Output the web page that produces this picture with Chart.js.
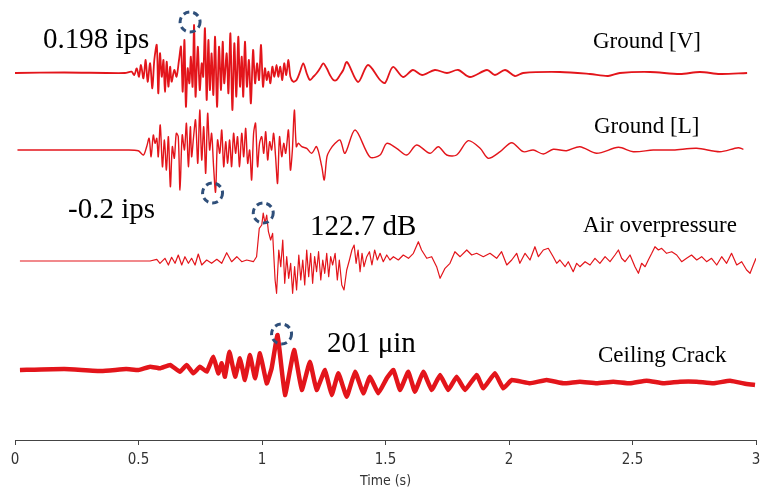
<!DOCTYPE html>
<html>
<head>
<meta charset="utf-8">
<title>Blast vibration records</title>
<script src="https://cdn.jsdelivr.net/npm/chart.js@4.4.1/dist/chart.umd.min.js"></script>
<style>
  html, body { margin: 0; padding: 0; background: #fff; }
  #wrap { width: 760px; height: 493px; position: relative; }
</style>
</head>
<body>
<div id="wrap"><canvas id="waveChart"></canvas></div>
<script>
console.log("waveChart loaded");

// time axis
const timeTicks = [0, 0.5, 1, 1.5, 2, 2.5, 3];

// trace names and peak readings
const traceNames = ["Ground [V]", "Ground [L]", "Air overpressure", "Ceiling Crack"];
const peakLabels = ["0.198 ips", "-0.2 ips", "122.7 dB", "201 \u03bcin"];

// [time (s), amplitude], amplitude in relative units (up = positive)
const groundV = [[0,0],[0.2,0.5],[0.445,0],[0.472,1.3],[0.483,-2],[0.493,4.7],[0.502,-3.7],[0.510,8],[0.520,-5.3],[0.529,13],[0.537,-8.7],[0.547,9.7],[0.556,-15.3],[0.564,13],[0.574,28],[0.580,-20.3],[0.587,19.7],[0.594,-3.7],[0.601,13],[0.607,-18.7],[0.614,11.3],[0.621,-13.7],[0.628,6.3],[0.634,-8.7],[0.645,3],[0.654,-3.7],[0.664,13],[0.672,26.3],[0.679,-18.7],[0.686,33],[0.692,-33.7],[0.699,4.7],[0.706,-10.3],[0.712,16.3],[0.719,-13.7],[0.725,48],[0.731,-23.7],[0.740,26.3],[0.748,-17],[0.756,9.7],[0.762,-3.7],[0.769,44.7],[0.776,-27],[0.783,33],[0.789,-17],[0.796,19.7],[0.803,-22],[0.810,36.3],[0.818,-33.7],[0.826,26.3],[0.834,-17],[0.841,31.3],[0.847,-10.3],[0.857,19.7],[0.864,-20.3],[0.872,39.7],[0.880,-37],[0.888,29.7],[0.896,-23.7],[0.904,36.3],[0.911,-13.7],[0.918,16.3],[0.924,-23.7],[0.931,31.3],[0.939,-13.7],[0.947,13],[0.955,-30.3],[0.964,23],[0.972,-10.3],[0.980,9.7],[0.988,-7],[0.996,28],[1.004,-13.7],[1.012,4.7],[1.019,-7],[1.026,1.3],[1.034,-10.3],[1.042,6.3],[1.050,-3.7],[1.059,8],[1.066,-3.7],[1.074,6.3],[1.082,-7],[1.090,9.7],[1.098,-2],[1.107,13],[1.115,-3.7],[1.127,-8.7],[1.140,-7],[1.154,1.3],[1.167,9.7],[1.181,-0.3],[1.194,-7],[1.208,-3.7],[1.221,-0.3],[1.235,4.7],[1.248,9.7],[1.262,4.7],[1.275,-2],[1.289,-7],[1.302,-7],[1.316,-2],[1.329,3],[1.344,11],[1.389,-9],[1.429,8],[1.478,-7],[1.498,-10],[1.530,6],[1.571,-4],[1.611,3],[1.648,-2],[1.700,3],[1.749,0],[1.794,3],[1.842,-4],[1.911,3],[1.943,-2],[1.984,3],[2.024,-3],[2.057,0],[2.206,1],[2.328,-1],[2.401,-3],[2.449,0],[2.571,1],[2.692,-1],[2.773,1],[2.854,-1],[2.964,0]];

const groundL = [[0.01,0],[0.2,0],[0.445,0],[0.499,-0.7],[0.520,-5],[0.533,3.3],[0.543,11.7],[0.551,-6.7],[0.560,15],[0.567,6.7],[0.574,11.7],[0.580,-6.7],[0.588,25],[0.597,-16.7],[0.605,10],[0.613,-20],[0.621,13.3],[0.629,-36.7],[0.637,3.3],[0.645,-8.3],[0.653,16.7],[0.661,13.3],[0.668,-40],[0.677,15],[0.686,0],[0.694,26.7],[0.702,-16.7],[0.710,23.3],[0.715,-6.7],[0.723,13.3],[0.731,30],[0.740,-13.3],[0.748,40],[0.756,-10],[0.764,23.3],[0.772,-23.3],[0.780,36.7],[0.788,0],[0.796,16.7],[0.804,-16.7],[0.812,-42],[0.820,10],[0.829,-3.3],[0.837,20],[0.845,-16.7],[0.853,8.3],[0.861,-13.3],[0.869,10],[0.877,-16.7],[0.885,16.7],[0.893,-3.3],[0.901,13.3],[0.909,-16.7],[0.918,16.7],[0.926,-6.7],[0.934,21.7],[0.942,-13.3],[0.950,0],[0.958,-30],[0.966,16.7],[0.974,26.7],[0.982,-16.7],[0.990,6.7],[0.999,13.3],[1.007,-3.3],[1.015,18.3],[1.023,-10],[1.031,8.3],[1.039,0],[1.047,16.7],[1.055,-6.7],[1.063,-33.3],[1.071,13.3],[1.080,-6.7],[1.088,6.7],[1.096,-3.3],[1.107,20],[1.115,-20],[1.123,0],[1.131,40],[1.139,3.3],[1.147,6.7],[1.161,3.3],[1.181,1.7],[1.201,-3.3],[1.221,3.3],[1.242,-16.7],[1.252,-30],[1.263,-6.7],[1.275,0],[1.296,6.7],[1.316,10],[1.336,-3.3],[1.377,20],[1.437,-7],[1.478,-5],[1.505,6.7],[1.545,1.7],[1.586,-5],[1.626,5],[1.680,-3.3],[1.714,3.3],[1.748,-5],[1.788,-5],[1.835,9.3],[1.883,1.7],[1.916,-8.3],[1.964,-1.7],[2.011,7.3],[2.058,-1.7],[2.098,0],[2.139,-4],[2.179,0.7],[2.233,-0.7],[2.287,3.3],[2.355,-3.3],[2.443,2.7],[2.503,-1.7],[2.584,0],[2.665,0],[2.760,1.7],[2.854,-1.7],[2.928,2.3],[2.949,0.7]];

const airOverpressure = [[0.02,0],[0.53,0],[0.547,0],[0.574,1.7],[0.587,-2.3],[0.607,2.7],[0.621,-4],[0.634,3.7],[0.648,-2.3],[0.661,6],[0.675,-4],[0.688,4.3],[0.702,-2.3],[0.715,2.7],[0.729,-4],[0.742,7],[0.756,-4],[0.776,1],[0.796,-2.3],[0.817,1.7],[0.837,-2.3],[0.857,8.3],[0.877,-0.7],[0.898,4.3],[0.918,-0.7],[0.938,1],[0.965,-0.7],[0.978,4.3],[0.989,32.7],[0.999,36],[1.005,48],[1.012,37.7],[1.019,46],[1.026,29.3],[1.035,21],[1.043,27.7],[1.053,-19],[1.059,-32.3],[1.068,11],[1.076,-5.7],[1.084,21],[1.092,-22.3],[1.100,4.3],[1.108,-17.3],[1.116,-2.3],[1.124,-32.3],[1.132,-5.7],[1.140,-29],[1.149,6],[1.157,-19],[1.165,1],[1.173,-24],[1.181,11],[1.189,-15.7],[1.197,7.7],[1.205,-22.3],[1.213,4.3],[1.221,-10.7],[1.229,9.3],[1.238,-19],[1.246,1],[1.254,-12.3],[1.262,7.7],[1.270,-15.7],[1.278,4.3],[1.286,-4],[1.296,7.7],[1.305,-19],[1.313,1],[1.323,-24],[1.332,-29],[1.343,-9],[1.354,1],[1.364,11],[1.373,16],[1.381,-2.3],[1.389,11],[1.397,-10.7],[1.405,7.7],[1.413,-5.7],[1.424,4.3],[1.435,9.3],[1.445,-4],[1.456,11],[1.467,1],[1.478,7.7],[1.491,-0.7],[1.505,6],[1.518,1],[1.532,4.3],[1.552,1],[1.572,6],[1.593,2.7],[1.613,7.7],[1.633,19.3],[1.646,11],[1.667,2.7],[1.687,4.3],[1.707,-5.7],[1.721,-17.3],[1.741,-7.3],[1.761,-2.3],[1.781,9.3],[1.802,4.3],[1.829,11],[1.849,6],[1.869,7.7],[1.896,4.3],[1.923,7.7],[1.950,2.7],[1.970,9.3],[1.991,-4],[2.011,1],[2.031,7.7],[2.044,-2.3],[2.065,7.7],[2.085,1],[2.105,14.3],[2.119,4.3],[2.139,11],[2.159,12.7],[2.179,4.3],[2.193,-2.3],[2.206,1],[2.227,-5.7],[2.240,-0.7],[2.260,-10.7],[2.274,-2.3],[2.287,-5.7],[2.308,-0.7],[2.328,-4],[2.348,2.7],[2.368,-2.3],[2.389,4.3],[2.409,-0.7],[2.429,6],[2.443,11],[2.456,2.7],[2.470,-0.7],[2.490,6],[2.510,-5.7],[2.524,-12.3],[2.537,-2.3],[2.551,-5.7],[2.564,1],[2.578,7.7],[2.591,14.3],[2.605,11],[2.618,12.7],[2.638,7.7],[2.659,9.3],[2.679,6],[2.699,-0.7],[2.719,2.7],[2.739,6],[2.760,1],[2.780,4.3],[2.800,-0.7],[2.820,2.7],[2.841,-4],[2.861,4.3],[2.881,-2.3],[2.901,7.7],[2.922,-4],[2.942,-0.7],[2.962,-9],[2.976,-12.3],[2.989,-4],[3.0,2.7]];

const ceilingCrack = [[0.02,0],[0.2,1],[0.35,-1],[0.45,1],[0.5,0],[0.547,3.3],[0.587,1.7],[0.628,5],[0.668,-1.7],[0.695,5],[0.722,-3.3],[0.749,3.3],[0.776,-1.7],[0.803,13.3],[0.823,-3.3],[0.837,6.7],[0.850,-6.7],[0.868,18.3],[0.891,-6.7],[0.911,11.7],[0.931,-10],[0.951,15],[0.972,-8.3],[0.992,16.7],[1.019,-13.3],[1.039,1.7],[1.063,35],[1.093,-25],[1.130,20],[1.161,-20],[1.194,8.3],[1.221,-20],[1.255,0],[1.282,-25],[1.309,-3.3],[1.343,-26.7],[1.377,-1.7],[1.410,-23.3],[1.437,-6.7],[1.471,-23.3],[1.505,-8.3],[1.532,0],[1.559,-20],[1.592,-1.7],[1.619,-21.7],[1.653,-1.7],[1.687,-20],[1.721,-5],[1.754,-20],[1.788,-6.7],[1.822,-20],[1.869,-5],[1.896,-18.3],[1.943,-3.3],[1.977,-18.3],[2.011,-10],[2.085,-13.3],[2.152,-10],[2.220,-13.3],[2.287,-11.7],[2.355,-13.3],[2.422,-11.7],[2.490,-13.3],[2.557,-10.7],[2.625,-13.3],[2.692,-11.7],[2.760,-11.7],[2.827,-13.3],[2.895,-10.7],[2.962,-14],[2.996,-15]];

const traces = [groundV, groundL, airOverpressure, ceilingCrack];

// layout of the stacked traces (in y-scale units, 0 = time axis)
const traceOffsets = [367, 290, 179, 70];
const traceWidths = [1.8, 1.4, 1.2, 4.5];
const traceTension = [0.3, 0.3, 0, 0.1];
const peakModes = ["max", "min", "max", "max"];
const lineColor = "#e3151b";

function buildDatasets() {
    return traces.map(function(tr, i) {
        return {
            label: traceNames[i],
            data: tr.map(function(p) { return { x: p[0], y: p[1] + traceOffsets[i] }; }),
            borderColor: lineColor,
            borderWidth: traceWidths[i],
            pointRadius: 0,
            tension: traceTension[i],
            fill: false,
            borderJoinStyle: "round"
        };
    });
}

function findPeak(tr, mode) {
    let best = tr[0];
    tr.forEach(function(p) {
        if (mode === "max" ? p[1] > best[1] : p[1] < best[1]) best = p;
    });
    return best;
}

// text positions: [left x, baseline y]
const nameSpots = [[593, 48], [594, 133], [583, 232], [598, 362]];
const peakSpots = [[43, 48], [68, 218], [310, 235], [327, 352]];
const circleNudge = [[-4, -3], [-3, 1], [0, 0], [4, -1]];

const annotationPlugin = {
    id: "annotations",
    afterDatasetsDraw(chart) {
        const ctx = chart.ctx;
        const xs = chart.scales.x;
        const ys = chart.scales.y;
        ctx.save();

        ctx.fillStyle = "#000";
        ctx.textAlign = "left";
        ctx.textBaseline = "alphabetic";
        ctx.font = '23px "Liberation Serif", "Times New Roman", serif';
        traceNames.forEach(function(name, i) {
            ctx.fillText(name, nameSpots[i][0], nameSpots[i][1]);
        });
        ctx.font = '29px "Liberation Serif", "Times New Roman", serif';
        peakLabels.forEach(function(lbl, i) {
            ctx.fillText(lbl, peakSpots[i][0], peakSpots[i][1]);
        });

        // dashed circles around the peak values
        ctx.strokeStyle = "#2f4f7a";
        ctx.lineWidth = 3;
        ctx.setLineDash([6, 4]);
        traces.forEach(function(tr, i) {
            const pk = findPeak(tr, peakModes[i]);
            const cx = xs.getPixelForValue(pk[0]) + circleNudge[i][0];
            const cy = ys.getPixelForValue(pk[1] + traceOffsets[i]) + circleNudge[i][1];
            ctx.beginPath();
            ctx.arc(cx, cy, 10, 0, Math.PI * 2);
            ctx.stroke();
        });
        ctx.restore();
    }
};

const axisFont = '"DejaVu Sans Condensed", "Liberation Sans Narrow", Arial, sans-serif';

new Chart(document.getElementById("waveChart"), {
    type: "line",
    data: { datasets: buildDatasets() },
    options: {
        responsive: true,
        maintainAspectRatio: false,
        animation: false,
        events: [],
        layout: { padding: { left: 15, right: 4, top: 0, bottom: 0 } },
        plugins: {
            legend: { display: false },
            tooltip: { enabled: false }
        },
        scales: {
            x: {
                type: "linear",
                min: timeTicks[0],
                max: timeTicks[timeTicks.length - 1],
                afterBuildTicks: function(scale) {
                    scale.ticks = timeTicks.map(function(v) { return { value: v }; });
                },
                afterFit: function(scale) {
                    scale.height = 53;
                    scale.paddingLeft = 0;
                    scale.paddingRight = 0;
                },
                grid: { drawOnChartArea: false, drawTicks: true, tickLength: 5, color: "#444" },
                border: { display: true, color: "#444", width: 1 },
                ticks: {
                    color: "#333",
                    padding: 6,
                    maxRotation: 0,
                    font: { family: axisFont, size: 15 },
                    callback: function(v) { return String(v); }
                },
                title: {
                    display: true,
                    text: "Time (s)",
                    color: "#333",
                    padding: { top: 0, bottom: 3 },
                    font: { family: axisFont, size: 14 }
                }
            },
            y: {
                display: false,
                min: 0,
                max: 440
            }
        }
    },
    plugins: [annotationPlugin]
});
console.log("chart drawn");
</script>
</body>
</html>
